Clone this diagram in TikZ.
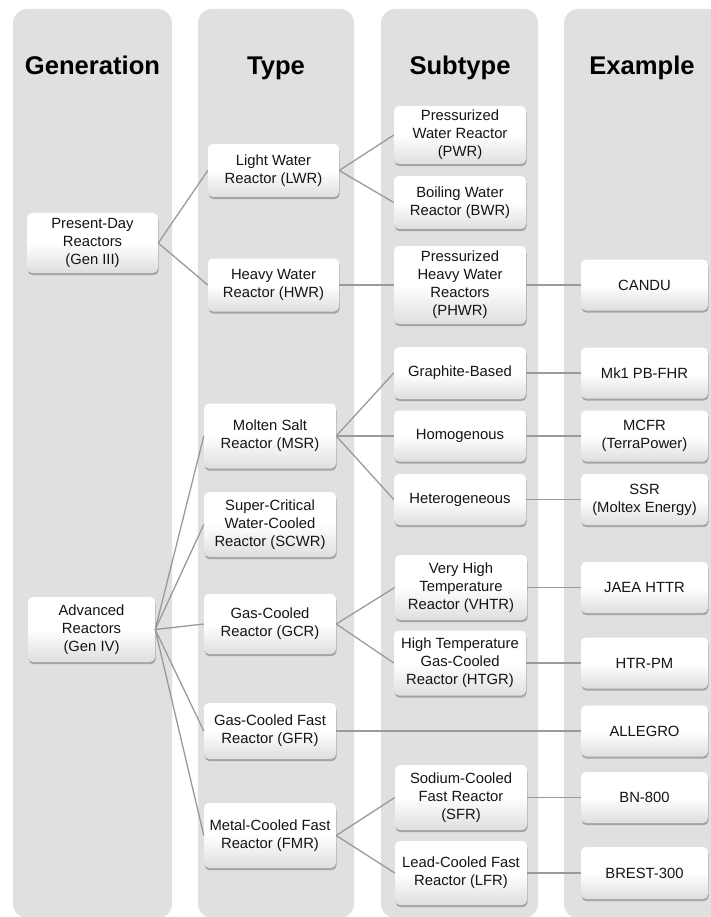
\documentclass[tikz,border=0pt]{standalone}
\usepackage{fontspec}
\setmainfont{Liberation Sans}
\usetikzlibrary{shadows}
\definecolor{colbg}{HTML}{E0E0E0}
\definecolor{boxbot}{HTML}{DEDEDE}
\definecolor{linegray}{HTML}{9A9A9A}
\tikzset{
  column/.style={fill=colbg, draw=none, rounded corners=14pt},
  header/.style={font=\fontsize{25.6}{30}\selectfont\bfseries, text=black, anchor=base},
  box/.style={rounded corners=5pt, top color=white, bottom color=boxbot, middle color=white,
    draw=none, align=center, inner sep=1pt, text=black!92,
    font=\fontsize{14.8}{18}\selectfont,
    drop shadow={shadow xshift=0.6pt, shadow yshift=-2.2pt, opacity=0.4, fill=black!70}},
  link/.style={draw=linegray, line width=1.3pt}
}
\begin{document}
\begin{tikzpicture}[x=1pt,y=-1pt]
\useasboundingbox (0,0) rectangle (710,917);
% columns
\fill[column] (13,9) rectangle (172,918);
\fill[column] (198,9) rectangle (354,918);
\fill[column] (381,9) rectangle (538,918);
\fill[column] (564,9) rectangle (722,918);
% headers
\node[header] (hgen) at (92.5,75) {Generation};
\node[header] (htype) at (276,75) {Type};
\node[header] (hsub) at (460,75) {Subtype};
\node[header] (hex) at (642,75) {Example};
% column 1
\node[box, minimum width=131pt, minimum height=60pt] (pd) at (92.5,243) {Present-Day\\Reactors\\(Gen III)};
\node[box, minimum width=127pt, minimum height=65pt] (adv) at (91.5,629.5) {Advanced\\Reactors\\(Gen IV)};
% column 2
\node[box, minimum width=131pt, minimum height=53pt] (lwr) at (273.5,170.5) {Light Water\\Reactor (LWR)};
\node[box, minimum width=131pt, minimum height=53pt] (hwr) at (273.5,285) {Heavy Water\\Reactor (HWR)};
\node[box, minimum width=132pt, minimum height=65pt] (msr) at (270,436) {Molten Salt\\Reactor (MSR)};
\node[box, minimum width=132pt, minimum height=65pt] (scwr) at (270,524.5) {Super-Critical\\Water-Cooled\\Reactor (SCWR)};
\node[box, minimum width=132pt, minimum height=60pt] (gcr) at (270,624) {Gas-Cooled\\Reactor (GCR)};
\node[box, minimum width=132pt, minimum height=56pt] (gfr) at (270,731) {Gas-Cooled Fast\\Reactor (GFR)};
\node[box, minimum width=132pt, minimum height=65pt] (fmr) at (270,835.5) {Metal-Cooled Fast\\Reactor (FMR)};
% column 3
\node[box, minimum width=132pt, minimum height=58pt] (pwr) at (460,135) {Pressurized\\Water Reactor\\(PWR)};
\node[box, minimum width=132pt, minimum height=53pt] (bwr) at (460,202.5) {Boiling Water\\Reactor (BWR)};
\node[box, minimum width=132pt, minimum height=78pt] (phwr) at (460,285) {Pressurized\\Heavy Water\\Reactors\\(PHWR)};
\node[box, minimum width=132pt, minimum height=52pt] (gb) at (460,373) {Graphite-Based};
\node[box, minimum width=132pt, minimum height=51pt] (hom) at (460,436) {Homogenous};
\node[box, minimum width=132pt, minimum height=51pt] (het) at (460,499.5) {Heterogeneous};
\node[box, minimum width=132pt, minimum height=65pt] (vhtr) at (461,587.5) {Very High\\Temperature\\Reactor (VHTR)};
\node[box, minimum width=132pt, minimum height=65pt] (htgr) at (460,663) {High Temperature\\Gas-Cooled\\Reactor (HTGR)};
\node[box, minimum width=132pt, minimum height=65pt] (sfr) at (461,797.5) {Sodium-Cooled\\Fast Reactor\\(SFR)};
\node[box, minimum width=132pt, minimum height=64pt] (lfr) at (461,873) {Lead-Cooled Fast\\Reactor (LFR)};
% column 4
\node[box, minimum width=127pt, minimum height=51pt] (candu) at (644.5,285) {CANDU};
\node[box, minimum width=127pt, minimum height=51pt] (mk1) at (644.5,373) {Mk1 PB-FHR};
\node[box, minimum width=127pt, minimum height=51pt] (mcfr) at (644.5,436) {MCFR\\(TerraPower)};
\node[box, minimum width=127pt, minimum height=51pt] (ssr) at (644.5,499.5) {SSR\\(Moltex Energy)};
\node[box, minimum width=127pt, minimum height=51pt] (jaea) at (644.5,587.5) {JAEA HTTR};
\node[box, minimum width=127pt, minimum height=51pt] (htrpm) at (644.5,663) {HTR-PM};
\node[box, minimum width=127pt, minimum height=51pt] (allegro) at (644.5,731) {ALLEGRO};
\node[box, minimum width=127pt, minimum height=51pt] (bn) at (644.5,797.5) {BN-800};
\node[box, minimum width=127pt, minimum height=52pt] (brest) at (644.5,873) {BREST-300};
% connectors
\foreach \a/\b in {pd/lwr, pd/hwr, lwr/pwr, lwr/bwr, hwr/phwr, phwr/candu,
  adv/msr, adv/scwr, adv/gcr, adv/gfr, adv/fmr,
  msr/gb, msr/hom, msr/het, gb/mk1, hom/mcfr, het/ssr,
  gcr/vhtr, gcr/htgr, vhtr/jaea, htgr/htrpm, gfr/allegro,
  fmr/sfr, fmr/lfr, sfr/bn, lfr/brest}
  \draw[link] (\a.east) -- (\b.west);
\end{tikzpicture}
\end{document}
